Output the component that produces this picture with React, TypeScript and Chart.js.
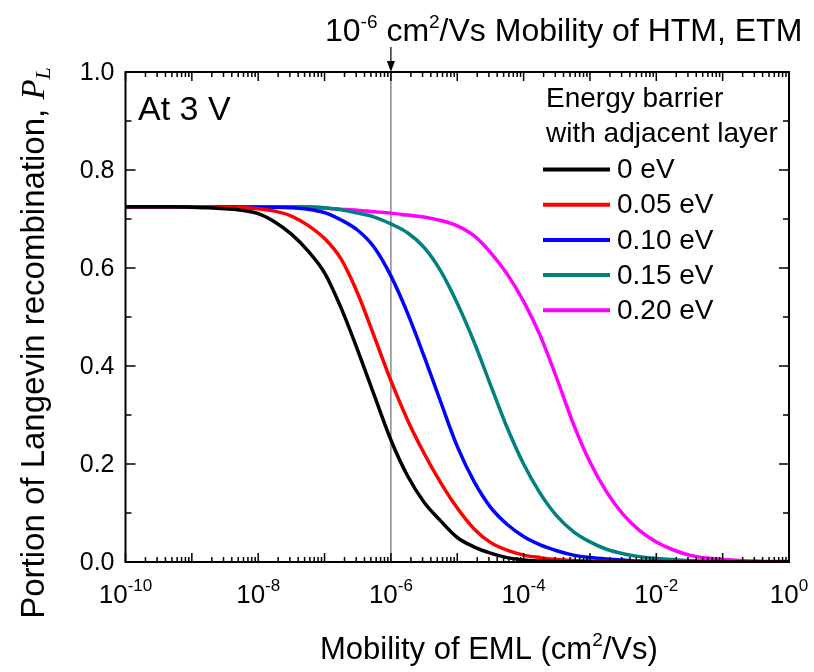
import React, { useEffect, useRef } from "react";
import { Chart, registerables } from "chart.js";

Chart.register(...registerables);

// Mobility of the emissive layer (cm²/Vs), quarter-decade steps from 1e-10 to 1
const MOBILITY = [
  1e-10, 1.78e-10, 3.16e-10, 5.62e-10,
  1e-9, 1.78e-9, 3.16e-9, 5.62e-9,
  1e-8, 1.78e-8, 3.16e-8, 5.62e-8,
  1e-7, 1.78e-7, 3.16e-7, 5.62e-7,
  1e-6, 1.78e-6, 3.16e-6, 5.62e-6,
  1e-5, 1.78e-5, 3.16e-5, 5.62e-5,
  1e-4, 1.78e-4, 3.16e-4, 5.62e-4,
  1e-3, 1.78e-3, 3.16e-3, 5.62e-3,
  1e-2, 1.78e-2, 3.16e-2, 5.62e-2,
  1e-1, 1.78e-1, 3.16e-1, 5.62e-1,
  1,
];

// Portion of Langevin recombination P_L for each energy barrier
const PL_0EV = [
  0.725, 0.725, 0.725, 0.725,
  0.724, 0.723, 0.721, 0.718,
  0.711, 0.694, 0.669, 0.635,
  0.59, 0.518, 0.432, 0.34,
  0.249, 0.176, 0.122, 0.084,
  0.05, 0.031, 0.018, 0.009,
  0.004, 0.002, 0.001, 0.0005,
  0, 0, 0, 0,
  0, 0, 0, 0,
  0, 0, 0, 0,
  0,
];
const PL_005EV = [
  0.725, 0.725, 0.725, 0.725,
  0.725, 0.725, 0.724, 0.723,
  0.721, 0.716, 0.706, 0.687,
  0.66, 0.618, 0.548, 0.46,
  0.37, 0.29, 0.222, 0.162,
  0.11, 0.068, 0.04, 0.024,
  0.014, 0.009, 0.005, 0.003,
  0.002, 0.001, 0.0005, 0,
  0, 0, 0, 0,
  0, 0, 0, 0,
  0,
];
const PL_010EV = [
  0.725, 0.725, 0.725, 0.725,
  0.725, 0.725, 0.725, 0.724,
  0.724, 0.724, 0.723, 0.72,
  0.713, 0.698, 0.677, 0.642,
  0.584, 0.508, 0.42, 0.327,
  0.236, 0.165, 0.112, 0.077,
  0.052, 0.035, 0.023, 0.014,
  0.009, 0.006, 0.004, 0.002,
  0.001, 0.0005, 0, 0,
  0, 0, 0, 0,
  0,
];
const PL_015EV = [
  0.725, 0.725, 0.725, 0.725,
  0.725, 0.725, 0.725, 0.725,
  0.725, 0.725, 0.725, 0.725,
  0.723, 0.719, 0.712, 0.704,
  0.69, 0.672, 0.642, 0.594,
  0.528, 0.45, 0.362, 0.275,
  0.2, 0.14, 0.094, 0.062,
  0.041, 0.026, 0.017, 0.011,
  0.007, 0.005, 0.003, 0.002,
  0.001, 0.0005, 0, 0,
  0,
];
const PL_020EV = [
  0.725, 0.725, 0.725, 0.725,
  0.725, 0.725, 0.725, 0.725,
  0.725, 0.725, 0.724, 0.723,
  0.722, 0.72, 0.718, 0.715,
  0.712, 0.708, 0.704, 0.697,
  0.686, 0.666, 0.632, 0.588,
  0.532, 0.462, 0.375, 0.282,
  0.204, 0.143, 0.097, 0.064,
  0.041, 0.025, 0.014, 0.008,
  0.005, 0.003, 0.002, 0.001,
  0.001,
];

const SERIES_LABELS = ["0 eV", "0.05 eV", "0.10 eV", "0.15 eV", "0.20 eV"];
const SERIES_COLORS = ["#000000", "#ff0000", "#0000ff", "#008080", "#ff00ff"];
const SERIES_VALUES = [PL_0EV, PL_005EV, PL_010EV, PL_015EV, PL_020EV];

// Axis ticks
const X_DECADES = [-10, -9, -8, -7, -6, -5, -4, -3, -2, -1, 0];
const X_LABEL_EXPONENTS = ["-10", "-8", "-6", "-4", "-2", "0"];
const Y_MAJOR = [0, 0.2, 0.4, 0.6, 0.8, 1.0];
const Y_LABELS = ["0.0", "0.2", "0.4", "0.6", "0.8", "1.0"];
const Y_MINOR = [0.1, 0.3, 0.5, 0.7, 0.9];

const HTM_MOBILITY = 1e-6;

const SANS = '"Liberation Sans", Arial, sans-serif';
const SERIF = '"Liberation Serif", "Times New Roman", serif';

type Run = { t: string; font: string; dy?: number };

function runsWidth(ctx: CanvasRenderingContext2D, runs: Run[]) {
  let w = 0;
  for (const r of runs) {
    ctx.font = r.font;
    w += ctx.measureText(r.t).width;
  }
  return w;
}

function drawRuns(ctx: CanvasRenderingContext2D, runs: Run[], x: number, y: number) {
  let cx = x;
  for (const r of runs) {
    ctx.font = r.font;
    ctx.fillText(r.t, cx, y + (r.dy || 0));
    cx += ctx.measureText(r.t).width;
  }
}

const guideLine = {
  id: "guideLine",
  beforeDatasetsDraw(chart: any) {
    const { ctx, chartArea } = chart;
    const xs = chart.scales.x;
    const px = xs.getPixelForValue(HTM_MOBILITY);
    ctx.save();
    ctx.strokeStyle = "#8a8a8a";
    ctx.lineWidth = 1.5;
    ctx.beginPath();
    ctx.moveTo(px, chartArea.top);
    ctx.lineTo(px, chartArea.bottom);
    ctx.stroke();
    ctx.restore();
  },
};

const decorations = {
  id: "decorations",
  afterDatasetsDraw(chart: any) {
    const { ctx, chartArea } = chart;
    const { left, right, top, bottom } = chartArea;
    const xs = chart.scales.x;
    const ys = chart.scales.y;
    ctx.save();
    ctx.fillStyle = "#000";
    ctx.strokeStyle = "#000";

    // frame
    ctx.lineWidth = 2;
    ctx.strokeRect(left, top, right - left, bottom - top);

    // x ticks (inward, bottom and top)
    ctx.lineWidth = 1.5;
    ctx.beginPath();
    for (const d of X_DECADES) {
      const px = xs.getPixelForValue(Math.pow(10, d));
      ctx.moveTo(px, bottom);
      ctx.lineTo(px, bottom - 9);
      ctx.moveTo(px, top);
      ctx.lineTo(px, top + 9);
      if (d < 0) {
        for (let m = 2; m <= 9; m++) {
          const pm = xs.getPixelForValue(m * Math.pow(10, d));
          ctx.moveTo(pm, bottom);
          ctx.lineTo(pm, bottom - 5);
          ctx.moveTo(pm, top);
          ctx.lineTo(pm, top + 5);
        }
      }
    }
    // y ticks (inward, left and right)
    for (const v of Y_MAJOR) {
      const py = ys.getPixelForValue(v);
      ctx.moveTo(left, py);
      ctx.lineTo(left + 10, py);
      ctx.moveTo(right, py);
      ctx.lineTo(right - 10, py);
    }
    for (const v of Y_MINOR) {
      const py = ys.getPixelForValue(v);
      ctx.moveTo(left, py);
      ctx.lineTo(left + 6, py);
      ctx.moveTo(right, py);
      ctx.lineTo(right - 6, py);
    }
    ctx.stroke();

    // y tick labels
    ctx.font = `25px ${SANS}`;
    ctx.textAlign = "right";
    ctx.textBaseline = "middle";
    Y_MAJOR.forEach((v, i) => {
      ctx.fillText(Y_LABELS[i], left - 11, ys.getPixelForValue(v) + 1);
    });

    // x tick labels: 10 with superscript exponent
    ctx.textAlign = "left";
    ctx.textBaseline = "alphabetic";
    for (const e of X_LABEL_EXPONENTS) {
      const px = xs.getPixelForValue(Math.pow(10, Number(e)));
      const runs: Run[] = [
        { t: "10", font: `26px ${SANS}` },
        { t: e, font: `17px ${SANS}`, dy: -12 },
      ];
      const w = runsWidth(ctx, runs);
      drawRuns(ctx, runs, px - w / 2, bottom + 41);
    }

    // x axis title
    const xTitle: Run[] = [
      { t: "Mobility of EML (cm", font: `31px ${SANS}` },
      { t: "2", font: `19px ${SANS}`, dy: -13 },
      { t: "/Vs)", font: `31px ${SANS}` },
    ];
    drawRuns(ctx, xTitle, 320, bottom + 97);

    // y axis title (rotated)
    ctx.save();
    ctx.translate(44, 0);
    ctx.rotate(-Math.PI / 2);
    const yTitle: Run[] = [
      { t: "Portion of Langevin recombination, ", font: `33px ${SANS}` },
      { t: "P", font: `italic 33px ${SERIF}` },
      { t: "L", font: `italic 22px ${SERIF}`, dy: 6 },
    ];
    const ytw = runsWidth(ctx, yTitle);
    drawRuns(ctx, yTitle, -343 - ytw / 2, 0);
    ctx.restore();

    // annotation above the plot with arrow to the guide line
    const gx = xs.getPixelForValue(HTM_MOBILITY);
    const note: Run[] = [
      { t: "10", font: `32px ${SANS}` },
      { t: "-6", font: `19px ${SANS}`, dy: -13 },
      { t: " cm", font: `32px ${SANS}` },
      { t: "2", font: `19px ${SANS}`, dy: -13 },
      { t: "/Vs Mobility of HTM, ETM", font: `32px ${SANS}` },
    ];
    drawRuns(ctx, note, 325, 41);
    ctx.lineWidth = 1.2;
    ctx.beginPath();
    ctx.moveTo(gx, 47);
    ctx.lineTo(gx, top - 8);
    ctx.stroke();
    ctx.beginPath();
    ctx.moveTo(gx, top);
    ctx.lineTo(gx - 4, top - 11);
    ctx.lineTo(gx + 4, top - 11);
    ctx.closePath();
    ctx.fill();

    // condition label
    ctx.font = `34px ${SANS}`;
    ctx.fillText("At 3 V", 138, 120);

    // legend
    ctx.font = `28px ${SANS}`;
    ctx.fillText("Energy barrier", 546, 107);
    ctx.fillText("with adjacent layer", 546, 142);
    chart.data.datasets.forEach((ds: any, i: number) => {
      const ly = 169.5 + i * 35.2;
      ctx.strokeStyle = ds.borderColor;
      ctx.lineWidth = 4;
      ctx.beginPath();
      ctx.moveTo(543, ly);
      ctx.lineTo(610, ly);
      ctx.stroke();
      ctx.fillStyle = "#000";
      ctx.textBaseline = "middle";
      ctx.fillText(ds.label, 617, ly + 1);
      ctx.textBaseline = "alphabetic";
    });

    ctx.restore();
  },
};

export default function App() {
  const canvasRef = useRef<HTMLCanvasElement | null>(null);

  useEffect(() => {
    const canvas = canvasRef.current;
    if (!canvas) return;
    const chart = new Chart(canvas, {
      type: "line",
      data: {
        datasets: SERIES_VALUES.map((vals, i) => ({
          label: SERIES_LABELS[i],
          data: MOBILITY.map((x, j) => ({ x, y: vals[j] })),
          borderColor: SERIES_COLORS[i],
          backgroundColor: SERIES_COLORS[i],
          borderWidth: 3.5,
          pointRadius: 0,
          fill: false,
          cubicInterpolationMode: "monotone" as const,
        })),
      },
      options: {
        responsive: false,
        animation: false,
        devicePixelRatio: 1,
        events: [],
        layout: { padding: { left: 125.5, right: 25, top: 72, bottom: 110 } },
        scales: {
          x: { type: "logarithmic", min: 1e-10, max: 1, display: false },
          y: { type: "linear", min: 0, max: 1, display: false },
        },
        plugins: {
          legend: { display: false },
          tooltip: { enabled: false },
        },
      },
      plugins: [guideLine, decorations],
    });
    return () => chart.destroy();
  }, []);

  return (
    <div style={{ position: "absolute", left: 0, top: 0, width: 814, height: 672, background: "#fff" }}>
      <canvas ref={canvasRef} width={814} height={672} style={{ display: "block", width: 814, height: 672 }} />
    </div>
  );
}
